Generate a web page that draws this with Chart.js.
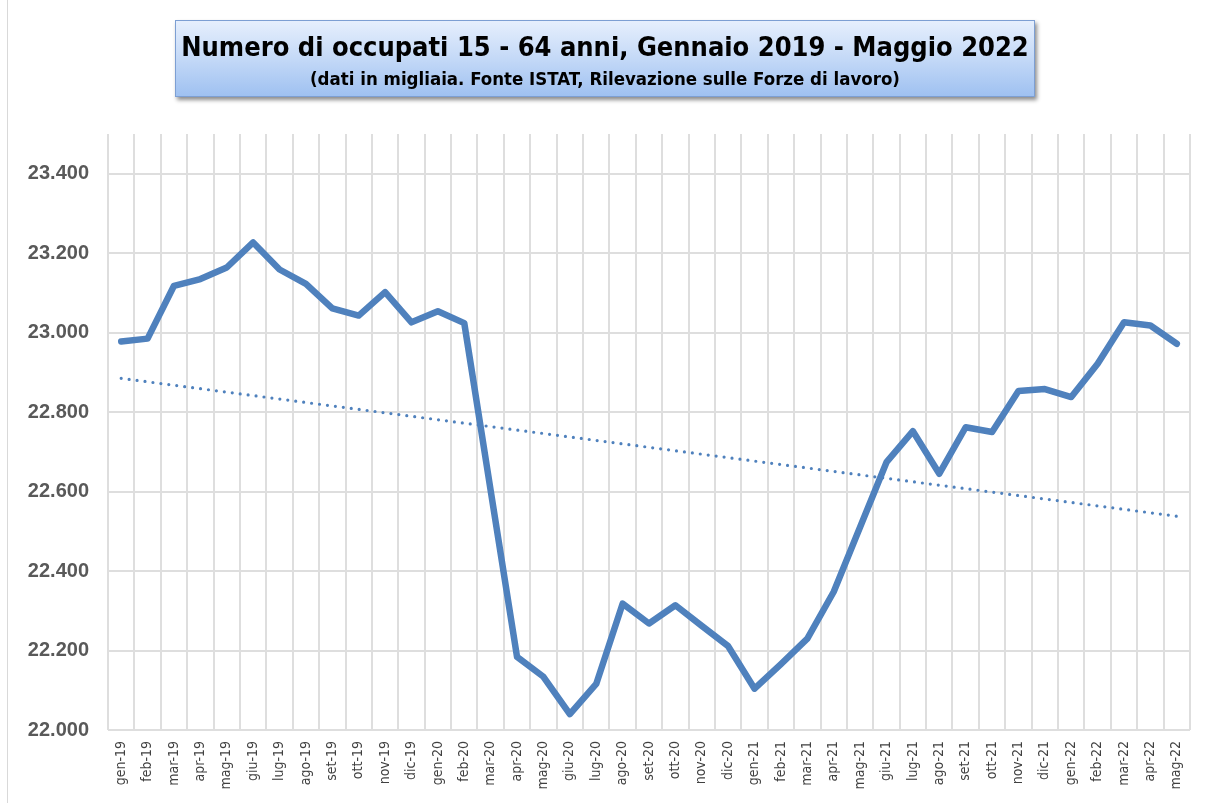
<!DOCTYPE html>
<html>
<head>
<meta charset="utf-8">
<script src="https://cdn.jsdelivr.net/npm/chart.js@4/dist/chart.umd.min.js"></script>
<style>
  html, body { margin: 0; padding: 0; background: #fff; }
  #wrap { position: relative; width: 1215px; height: 803px; overflow: hidden; }
  #frame { position: absolute; left: 7px; top: -2px; width: 1220px; height: 1000px; border-left: 1px solid #d9d9d9; }
  #chart { position: absolute; left: 0; top: 0; }
  #titlebox {
    position: absolute; left: 175px; top: 20px; width: 858px; height: 75px;
    border: 1px solid #7d9fd3;
    background: linear-gradient(to bottom, #e6effd 0%, #c4d9f7 50%, #9fc1f1 100%);
    box-shadow: 2px 3px 4px rgba(0, 0, 0, 0.45);
    text-align: center; color: #000;
    font-family: "Liberation Sans Narrow", "DejaVu Sans Condensed", sans-serif;
    font-weight: bold;
  }
  #titlebox .t1 { font-size: 27px; line-height: 30px; margin-top: 11px; white-space: nowrap; }
  #titlebox .t2 { font-size: 18.5px; line-height: 22px; margin-top: 6px; white-space: nowrap; }
</style>
</head>
<body>
<div id="wrap">
  <div id="frame"></div>
  <canvas id="chart" width="1215" height="803"></canvas>
  <div id="titlebox">
    <div class="t1">Numero di occupati 15 - 64 anni, Gennaio 2019 - Maggio 2022</div>
    <div class="t2">(dati in migliaia. Fonte ISTAT, Rilevazione sulle Forze di lavoro)</div>
  </div>
</div>
<script>
const months = ['gen', 'feb', 'mar', 'apr', 'mag', 'giu', 'lug', 'ago', 'set', 'ott', 'nov', 'dic']
const years = ['19', '20', '21', '22']

// gen-19 .. mag-22
const labels = []
for (const y of years) {
  for (const m of months) labels.push(m + '-' + y)
}
labels.length = 41

const occupati = [
  22978, 22985, 23118, 23135, 23164, 23227, 23159, 23123, 23061, 23043, 23102, 23026,
  23054, 23024, 22603, 22184, 22134, 22040, 22116, 22318, 22268, 22314, 22262, 22211,
  22104, 22166, 22230, 22348, 22511, 22674, 22752, 22645, 22762, 22750, 22853, 22858,
  22838, 22922, 23026, 23018, 22972
]

// dotted linear trend, ends
const trendStart = 22885
const trendEnd = 22538

const yMin = 22000
const yMax = 23500
const yStep = 200

const blue = '#4f81bd'
const grey = '#595959'

function fmt(v) {
  const k = Math.floor(v / 1000)
  const r = String(v % 1000).padStart(3, '0')
  return k + '.' + r
}

const trend = labels.map((_, i) => i === 0 ? trendStart : (i === labels.length - 1 ? trendEnd : null))

new Chart(document.getElementById('chart'), {
  type: 'line',
  data: {
    labels,
    datasets: [
      {
        data: trend,
        borderColor: blue,
        borderWidth: 3.2,
        borderDash: [0, 8],
        borderCapStyle: 'round',
        pointRadius: 0,
        spanGaps: true,
        order: 2
      },
      {
        data: occupati,
        borderColor: blue,
        borderWidth: 6.5,
        borderJoinStyle: 'round',
        borderCapStyle: 'round',
        pointRadius: 0,
        tension: 0,
        order: 1
      }
    ]
  },
  options: {
    responsive: false,
    animation: false,
    events: [],
    layout: { padding: { top: 134, right: 25, left: 0, bottom: 0 } },
    plugins: {
      legend: { display: false },
      tooltip: { enabled: false }
    },
    scales: {
      x: {
        offset: true,
        grid: { offset: true, color: '#dedede', lineWidth: 2, drawTicks: false },
        border: { display: false },
        ticks: {
          minRotation: 90, maxRotation: 90, autoSkip: false, padding: 11,
          color: '#404040',
          font: { family: '"DejaVu Sans Condensed", sans-serif', size: 14 }
        },
        afterFit(scale) { scale.height = 73 }
      },
      y: {
        min: yMin,
        max: yMax,
        ticks: {
          stepSize: yStep,
          padding: 19,
          color: grey,
          font: { family: '"Liberation Sans", Arial, sans-serif', size: 20, weight: 'bold' },
          callback: (v) => v > 23400 ? '' : fmt(v)
        },
        grid: {
          drawTicks: false,
          lineWidth: 2,
          color: (ctx) => ctx.tick && ctx.tick.value > 23400 ? 'rgba(0,0,0,0)' : '#dedede'
        },
        border: { display: false },
        afterFit(scale) { scale.width = 108 }
      }
    }
  }
})
</script>
</body>
</html>
